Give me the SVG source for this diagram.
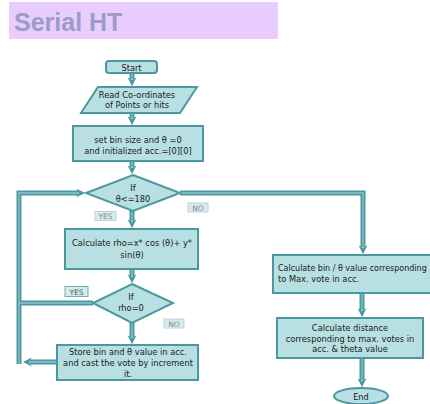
<svg xmlns="http://www.w3.org/2000/svg" width="430" height="404" viewBox="0 0 430 404">
<defs>
<style>
.n{fill:#b8e0e3;stroke:#4b99a0;stroke-width:2}
.t{font-family:"DejaVu Sans Condensed","DejaVu Sans",sans-serif;font-size:9.2px;fill:#1a1a1a;text-anchor:middle}
.s{text-anchor:start}
.c{fill:none;stroke:#4b99a0;stroke-width:5}
.ci{fill:none;stroke:#8cc6ca;stroke-width:1.3}
.lb{fill:#d6ebed;stroke:#b5d8dc;stroke-width:1}
.lt{font-family:"DejaVu Sans",sans-serif;font-size:7.5px;fill:#8a8a8a;text-anchor:middle}
</style>
<marker id="ah" viewBox="0 0 10 10" refX="2" refY="5" markerWidth="9" markerHeight="9" markerUnits="userSpaceOnUse" orient="auto">
<path d="M0,0 L10,5 L0,10 L3,5 z" fill="#4b99a0"/>
</marker>
</defs>
<rect width="430" height="404" fill="#ffffff"/>
<g id="title">
<rect x="9" y="2" width="269" height="37" fill="#e8cdfe"/>
<text x="14" y="31" font-family="'Liberation Sans',Arial,sans-serif" font-weight="bold" font-size="25" fill="#9b9bcc">Serial HT</text>
</g>
<g id="connectors">
<path class="c" d="M132,73 V79" marker-end="url(#ah)"/>
<path class="c" d="M132,113 V118" marker-end="url(#ah)"/>
<path class="c" d="M132,161 V167" marker-end="url(#ah)"/>
<path class="c" d="M132,211 V221" marker-end="url(#ah)"/>
<path class="c" d="M132,269 V276" marker-end="url(#ah)"/>
<path class="c" d="M132,323 V337" marker-end="url(#ah)"/>
<path class="c" d="M93,303 H19"/>
<path class="c" d="M57,362 H30" marker-end="url(#ah)"/>
<path class="c" d="M19,364 V193 H78" marker-end="url(#ah)"/>
<path class="c" d="M180,193 H363 V247" marker-end="url(#ah)"/>
<path class="c" d="M362,293 V310" marker-end="url(#ah)"/>
<path class="c" d="M362,358 V380" marker-end="url(#ah)"/>
<path class="ci" d="M132,73 V80 M132,113 V119 M132,161 V168 M132,211 V222 M132,269 V277 M132,323 V338 M93,303 H19 M57,362 H29 M19,364 V193 H79 M180,193 H363 V248 M362,293 V311 M362,358 V381"/>
</g>
<g id="start">
<rect class="n" x="106" y="61" width="51" height="12" rx="3"/>
<text class="t" x="131.5" y="70.5">Start</text>
</g>
<g id="read">
<path class="n" d="M98,87 H197 L180,113 H81 Z"/>
<text class="t" x="137" y="97.5">Read Co-ordinates</text>
<text class="t" x="137" y="108">of Points or hits</text>
</g>
<g id="init">
<rect class="n" x="73" y="126" width="130" height="35"/>
<text class="t" x="138" y="143">set bin size and θ =0</text>
<text class="t" x="138" y="153.5">and initialized acc.=[0][0]</text>
</g>
<g id="cond1">
<path class="n" d="M133,175 L180,193 L133,211 L86,193 Z"/>
<text class="t" x="133" y="190.5">If</text>
<text class="t" x="133" y="202">θ&lt;=180</text>
</g>
<g id="rho">
<rect class="n" x="65" y="229" width="133" height="40"/>
<text class="t" x="132" y="246">Calculate rho=x* cos (θ)+ y*</text>
<text class="t" x="132" y="257.5">sin(θ)</text>
</g>
<g id="cond2">
<path class="n" d="M132,284 L173,303 L132,323 L93,303 Z"/>
<text class="t" x="131" y="299.5">If</text>
<text class="t" x="131" y="311">rho=0</text>
</g>
<g id="store">
<rect class="n" x="57" y="345" width="141" height="35"/>
<text class="t" x="128" y="355">Store bin and θ  value in acc.</text>
<text class="t" x="128" y="365.5">and cast the vote by increment</text>
<text class="t" x="128" y="376.5">it.</text>
</g>
<g id="maxbin">
<rect class="n" x="273" y="255" width="160" height="38"/>
<text class="t s" x="278" y="270.5" style="font-size:8.9px">Calculate bin / θ value corresponding</text>
<text class="t s" x="278" y="281.5">to Max. vote in acc.</text>
</g>
<g id="dist">
<rect class="n" x="277" y="318" width="146" height="40"/>
<text class="t" x="350" y="330.5">Calculate distance</text>
<text class="t" x="350" y="341.5">corresponding to max. votes in</text>
<text class="t" x="350" y="352">acc. &amp; theta value</text>
</g>
<g id="end">
<ellipse class="n" cx="361" cy="396" rx="27" ry="8"/>
<text class="t" x="361" y="400">End</text>
</g>
<g id="labels">
<rect class="lb" x="95" y="211.5" width="21" height="9"/>
<text class="lt" x="105.5" y="219">YES</text>
<rect class="lb" x="188" y="203" width="20" height="9"/>
<text class="lt" x="198" y="210.5">NO</text>
<rect class="lb" x="65" y="286.5" width="23" height="10" style="stroke:#6fb0b6"/>
<text class="lt" x="76.5" y="294.5" style="fill:#555">YES</text>
<rect class="lb" x="164" y="319" width="20" height="9"/>
<text class="lt" x="174" y="326.5">NO</text>
</g>
</svg>
